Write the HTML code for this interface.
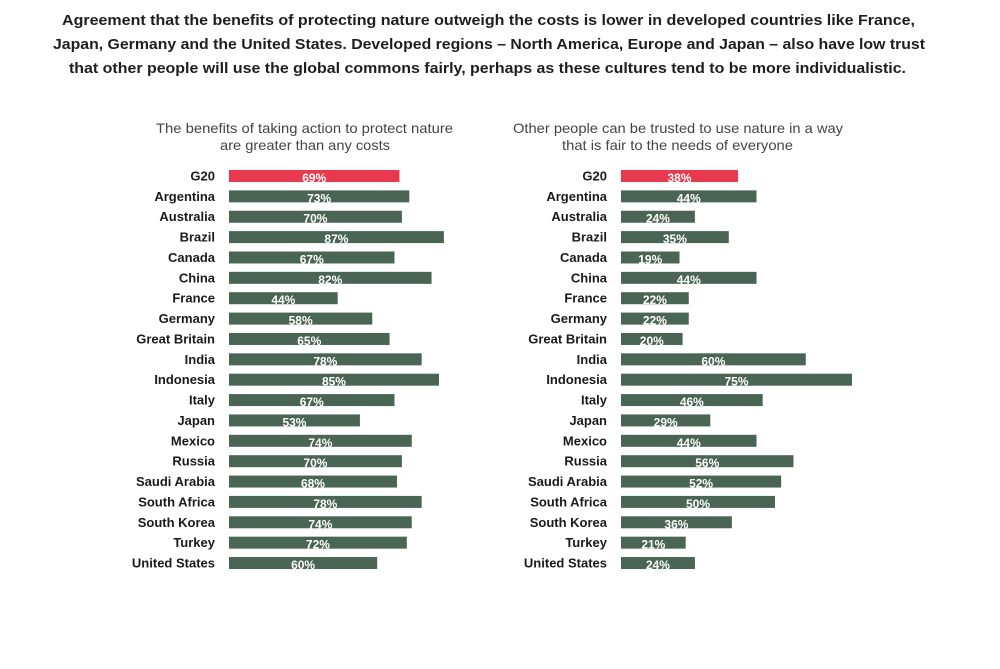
<!DOCTYPE html>
<html><head><meta charset="utf-8"><style>
html,body{margin:0;padding:0;background:#fff;}
svg{display:block;font-family:"Liberation Sans",sans-serif;}
.t{font-weight:bold;font-size:15px;fill:#1e1e1e;}
.s{font-size:14px;fill:#444;}
.l{font-weight:bold;font-size:13px;fill:#1a1a1a;text-anchor:end;}
.p{font-weight:bold;font-size:12px;fill:#fff;text-anchor:middle;}
</style></head><body>
<svg width="1000" height="669" viewBox="0 0 1000 669">
<text class="t" x="62" y="25" textLength="853" lengthAdjust="spacingAndGlyphs">Agreement that the benefits of protecting nature outweigh the costs is lower in developed countries like France,</text>
<text class="t" x="53" y="49" textLength="872" lengthAdjust="spacingAndGlyphs">Japan, Germany and the United States. Developed regions – North America, Europe and Japan – also have low trust</text>
<text class="t" x="69" y="73" textLength="837" lengthAdjust="spacingAndGlyphs">that other people will use the global commons fairly, perhaps as these cultures tend to be more individualistic.</text>
<text class="s" x="156" y="133" textLength="297" lengthAdjust="spacingAndGlyphs">The benefits of taking action to protect nature</text>
<text class="s" x="220" y="150" textLength="170" lengthAdjust="spacingAndGlyphs">are greater than any costs</text>
<text class="s" x="513" y="133" textLength="330" lengthAdjust="spacingAndGlyphs">Other people can be trusted to use nature in a way</text>
<text class="s" x="562" y="150" textLength="231" lengthAdjust="spacingAndGlyphs">that is fair to the needs of everyone</text>
<g id="rows"></g>
</svg>
<script>
const d=[["G20",69,38],["Argentina",73,44],["Australia",70,24],["Brazil",87,35],["Canada",67,19],["China",82,44],["France",44,22],["Germany",58,22],["Great Britain",65,20],["India",78,60],["Indonesia",85,75],["Italy",67,46],["Japan",53,29],["Mexico",74,44],["Russia",70,56],["Saudi Arabia",68,52],["South Africa",78,50],["South Korea",74,36],["Turkey",72,21],["United States",60,24]];
let h="";
d.forEach((r,i)=>{const cy=176+i*20.37;const c=i==0?"#e8394f":"#4b6555";
const w1=r[1]*2.47,w2=r[2]*3.08;
h+=`<text class="l" x="215" y="${cy+4.5}">${r[0]}</text><rect x="229" y="${cy-6}" width="${w1}" height="12" fill="${c}"/><text class="p" x="${229+w1/2}" y="${cy+6}">${r[1]}%</text>`;
h+=`<text class="l" x="607" y="${cy+4.5}">${r[0]}</text><rect x="621" y="${cy-6}" width="${w2}" height="12" fill="${c}"/><text class="p" x="${621+w2/2}" y="${cy+6}">${r[2]}%</text>`;});
document.getElementById("rows").innerHTML=h;
</script>
</body></html>
